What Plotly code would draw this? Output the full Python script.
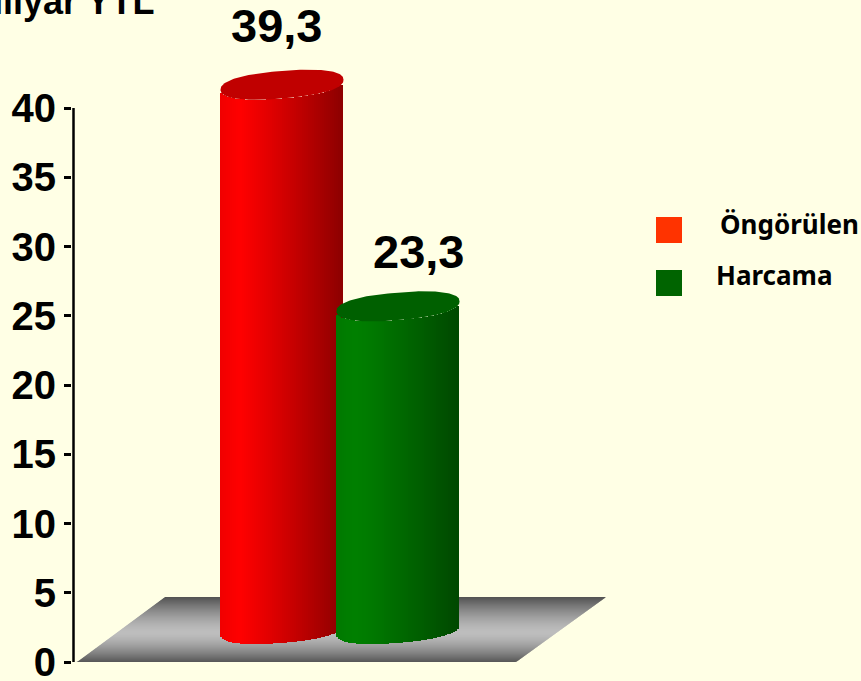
import math
import plotly.graph_objects as go

# ---- data ----
series_names = ["Öngörülen", "Harcama"]
series_values = [39.3, 23.3]
value_labels = ["39,3", "23,3"]
y_ticks = [0, 5, 10, 15, 20, 25, 30, 35, 40]
unit_title = "Milyar YTL"

# ---- styling / layout constants (pixels of the 861x681 page) ----
W, H = 861, 681
LEFT, BOTTOM_PX = 72, 662
PX_PER_UNIT = 13.85
BG = "#ffffe5"
FONT = "Liberation Sans"
LEGEND_FONT = "Noto Sans"
bar_center_px = [282, 398]
bar_half_width = 61.5
bar_base = 2.38
tilt = 0.08
minor_px = 13.8
round_p = 0.85
label_center_px = [276, 418]
label_lift = [6.65, 6.35]
light_rgb = [(255, 0, 0), (0, 128, 0)]
dark_rgb = [(140, 0, 0), (0, 72, 0)]
cap_colors = ["#c00000", "#006000"]
legend_colors = ["#ff3300", "#006400"]
legend_y_px = [230, 283]
legend_text_px = [(720, 224), (716, 275)]


def xd(px):
    return px - LEFT


def yd(py):
    return (BOTTOM_PX - py) / PX_PER_UNIT


def shade(i, u):
    """u in 0..1 across the cylinder: brightest near the left, darkening right."""
    lo, hi = dark_rgb[i], light_rgb[i]
    if u < 0.16:
        t = 0.88 + 0.12 * u / 0.16
    else:
        t = 1 - ((u - 0.16) / 0.84) ** 1.1
    return "rgb(%d,%d,%d)" % tuple(lo[k] + (hi[k] - lo[k]) * t for k in range(3))


def spow(a, p):
    return math.copysign(abs(a) ** p, a)


fig = go.Figure()

# cylinder bodies as thin bars from the library's bar trace
strip = 2.0
for i, v in enumerate(series_values):
    cx = bar_center_px[i]
    n = int(2 * bar_half_width / strip)
    xs, bases, cols = [], [], []
    for k in range(n):
        px = cx - bar_half_width + (k + 0.5) * strip
        u = (px - cx) / bar_half_width
        front = minor_px * max(0, 1 - abs(u) ** (2 / round_p)) ** (round_p / 2)
        bases.append(bar_base + (tilt * (px - cx) - front) / PX_PER_UNIT)
        xs.append(xd(px))
        cols.append(shade(i, (u + 1) / 2))
    fig.add_trace(go.Bar(x=xs, y=[v] * n, base=bases, width=strip + 0.6, opacity=1,
                         marker=dict(color=cols, opacity=1, line=dict(width=0)),
                         showlegend=False, hoverinfo="skip"))

# cylinder top caps
for i, v in enumerate(series_values):
    cx = bar_center_px[i]
    cap_x, cap_y = [], []
    for k in range(161):
        t = 2 * math.pi * k / 160
        dx = bar_half_width * spow(math.cos(t), round_p)
        cap_x.append(xd(cx + dx))
        cap_y.append(bar_base + v + (tilt * dx + minor_px * spow(math.sin(t), round_p)) / PX_PER_UNIT)
    fig.add_trace(go.Scatter(x=cap_x, y=cap_y, mode="lines", fill="toself",
                             fillcolor=cap_colors[i], line=dict(width=0),
                             showlegend=False, hoverinfo="skip"))

# axis line from 0 to the last tick
fig.add_trace(go.Scatter(x=[1.5, 1.5], y=[y_ticks[0], y_ticks[-1]], mode="lines",
                         line=dict(color="#000000", width=2.5), cliponaxis=False,
                         showlegend=False, hoverinfo="skip"))

# legend swatches
for i, name in enumerate(series_names):
    fig.add_trace(go.Scatter(x=[xd(669)], y=[yd(legend_y_px[i])], mode="markers", name=name,
                             marker=dict(symbol="square", size=26, color=legend_colors[i],
                                         line=dict(width=0)),
                             showlegend=False, hoverinfo="skip"))

# floor: a sheared grey gradient under the bars
shapes = []
f_top, f_bot = 597, 662
steps = f_bot - f_top
for k in range(steps):
    p0, p1 = f_top + k, f_top + k + 1.4
    s = (p0 - f_top) / steps
    lx0 = 165 + (77 - 165) * s
    rx0 = 606 + (516 - 606) * s
    s1 = (p1 - f_top) / steps
    lx1 = 165 + (77 - 165) * s1
    rx1 = 606 + (516 - 606) * s1
    mid = 0.54
    d = abs(s - mid) / (mid if s < mid else 1 - mid)
    g = int(190 - (190 - 84) * d ** 1.5)
    shapes.append(dict(type="path", layer="below", xref="x", yref="y", line=dict(width=0),
                       fillcolor="rgb(%d,%d,%d)" % (g, g, g),
                       path="M%f,%f L%f,%f L%f,%f L%f,%f Z" % (
                           xd(lx0), yd(p0), xd(rx0), yd(p0), xd(rx1), yd(min(p1, f_bot)),
                           xd(lx1), yd(min(p1, f_bot)))))

ann = []
for i, lab in enumerate(value_labels):
    ann.append(dict(x=xd(label_center_px[i]), y=series_values[i] + label_lift[i], text="<b>%s</b>" % lab,
                    showarrow=False, xanchor="center", yanchor="middle",
                    font=dict(family=FONT, size=47, color="#000")))
for i, name in enumerate(series_names):
    ann.append(dict(x=xd(legend_text_px[i][0]), y=yd(legend_text_px[i][1]), text="<b>%s</b>" % name,
                    showarrow=False, xanchor="left", yanchor="middle", borderpad=0, borderwidth=0,
                    font=dict(family=LEGEND_FONT, size=26, color="#000")))
ann.append(dict(xref="paper", yref="paper", x=(156 - LEFT) / (W - LEFT), y=(BOTTOM_PX - 1) / BOTTOM_PX,
                text="<b>%s</b>" % unit_title, showarrow=False, xanchor="right", yanchor="middle",
                font=dict(family=FONT, size=36, color="#000")))

fig.update_layout(
    width=W, height=H, paper_bgcolor=BG, plot_bgcolor=BG, barmode="overlay",
    bargap=0, bargroupgap=0,
    margin=dict(l=LEFT, r=0, t=0, b=H - BOTTOM_PX, pad=0), showlegend=False,
    shapes=shapes, annotations=ann,
    xaxis=dict(range=[0, W - LEFT], visible=False, fixedrange=True, automargin=False),
    yaxis=dict(range=[0, BOTTOM_PX / PX_PER_UNIT], tickvals=y_ticks, ticks="outside", ticklen=7,
               tickwidth=2.5, tickcolor="#000", showgrid=False, zeroline=False, showline=False,
               tickfont=dict(family=FONT, size=40, color="#000", weight="bold"),
               ticklabeloverflow="allow", automargin=False, fixedrange=True),
)

fig.write_html("out.html", post_script="document.body.style.margin='0';",
               config={"displayModeBar": False})
